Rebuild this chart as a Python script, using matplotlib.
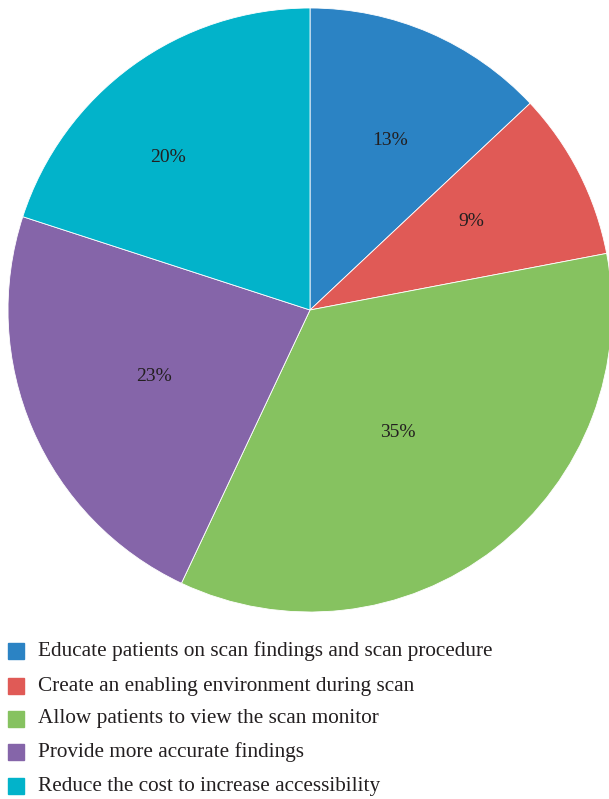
import matplotlib
matplotlib.use("Agg")
import numpy as np
import matplotlib.pyplot as plt
from matplotlib.patches import Rectangle

labels = ["Educate patients on scan findings and scan procedure",
          "Create an enabling environment during scan",
          "Allow patients to view the scan monitor",
          "Provide more accurate findings",
          "Reduce the cost to increase accessibility"]
values = [13, 9, 35, 23, 20]
colors = ["#2B83C4", "#E05A56", "#86C260", "#8565A9", "#02B3CA"]

# label placement (layout only): radius fraction and angle in degrees
label_r = [0.62, 0.61, 0.50, 0.56, 0.69]
label_ang = [64.8, 28.8, -54.5, -157.0, 132.9]

plt.rcParams['font.family'] = ['Liberation Serif', 'DejaVu Serif']
W, H = 609, 799
fig = plt.figure(figsize=(W/100, H/100), dpi=100)
cx, cy, R = 310, 310, 302
ax = fig.add_axes([(cx-R)/W, (H-cy-R)/H, 2*R/W, 2*R/H])
wedges, texts, autotexts = ax.pie(values, colors=colors, startangle=90, counterclock=False,
       autopct='%d%%', pctdistance=0.62, radius=1,
       wedgeprops=dict(edgecolor='white', linewidth=0.6),
       textprops=dict(fontsize=14, color='#231F20'))
for t, r, a in zip(autotexts, label_r, label_ang):
    t.set_position((r*np.cos(np.radians(a)), r*np.sin(np.radians(a))))
ax.set_xlim(-1, 1); ax.set_ylim(-1, 1)
ax.set_aspect('equal')
ax.axis('off')

lax = fig.add_axes([0, 0, 1, 1])
lax.set_xlim(0, W); lax.set_ylim(H, 0)
lax.axis('off')
ys = [651, 686, 719, 752, 786]
for y, lab, c in zip(ys, labels, colors):
    lax.add_patch(Rectangle((8, y-8), 16, 16, color=c))
    lax.text(38, y, lab, va='center', ha='left', fontsize=15.3, color='#231F20')

fig.savefig("out.png", dpi=100)
